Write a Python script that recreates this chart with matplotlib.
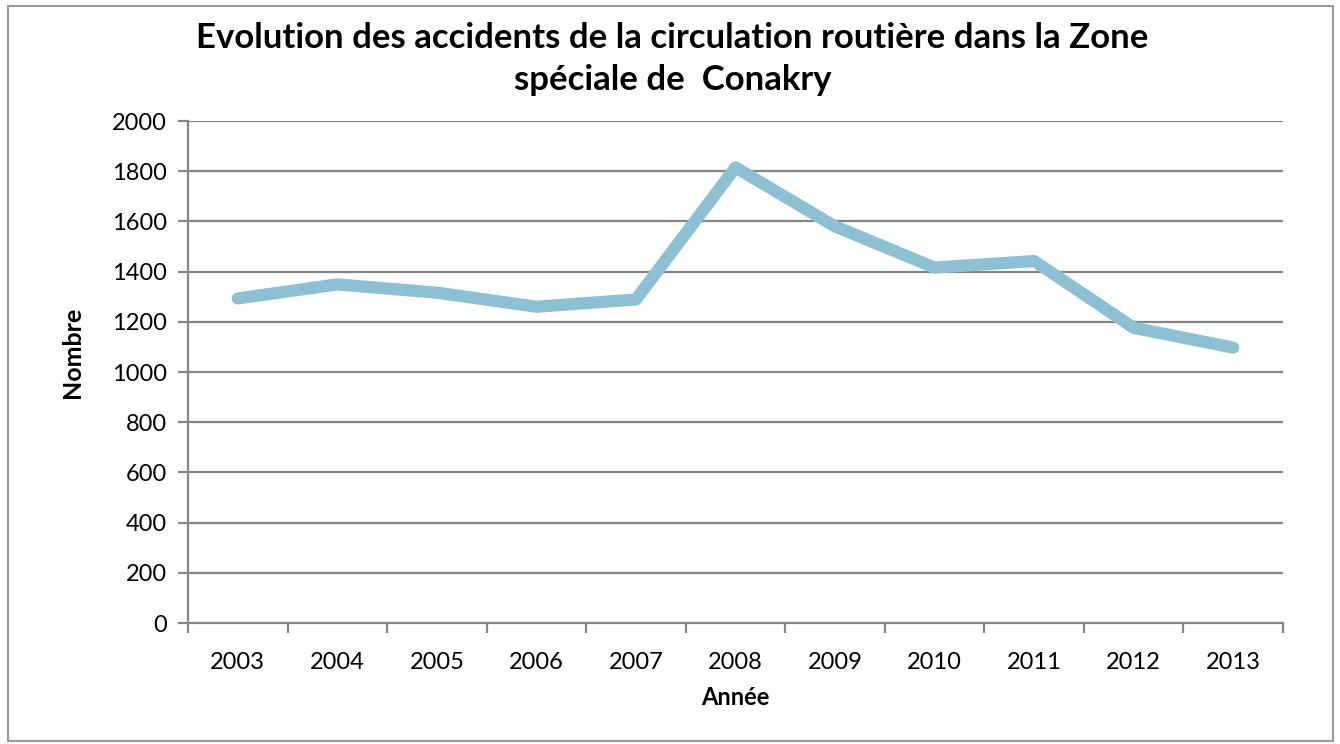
import matplotlib.pyplot as plt
from matplotlib.patches import Rectangle

annees = ['2003', '2004', '2005', '2006', '2007', '2008',
          '2009', '2010', '2011', '2012', '2013']
accidents = [1293, 1349, 1316, 1260, 1289, 1815, 1580, 1416, 1442, 1176, 1097]

plt.rcParams['font.family'] = ['Lato', 'DejaVu Sans']
gris = '#868686'

fig = plt.figure(figsize=(13.4, 7.44), dpi=100)
ax = fig.add_axes([188/1340, 1-623/744, (1283-188)/1340, (623-121)/744])

x = list(range(len(annees)))
ax.plot(x, accidents, color='#8DC0D3', lw=8.8,
        solid_capstyle='round', solid_joinstyle='round', zorder=3)

ax.set_xlim(-0.5, len(annees) - 0.5)
ax.set_ylim(0, 2000)
ax.set_yticks(range(0, 2001, 200))
ax.yaxis.grid(True, color=gris, lw=1.6)
ax.set_axisbelow(True)

# ticks between categories, labels centred
ax.set_xticks([i - 0.5 for i in range(len(annees) + 1)])
ax.set_xticklabels([])
ax.set_xticks(x, minor=True)
ax.set_xticklabels(annees, minor=True)
ax.tick_params(axis='x', which='major', length=7, width=1.6, color=gris)
ax.tick_params(axis='x', which='minor', length=0, pad=21, labelsize=17)
ax.tick_params(axis='y', length=7, width=1.6, color=gris, labelsize=17, pad=8)

for s in ['top', 'right']:
    ax.spines[s].set_visible(False)
for s in ['left', 'bottom']:
    ax.spines[s].set_color(gris)
    ax.spines[s].set_linewidth(1.6)

ax.set_ylabel('Nombre', fontsize=18, fontweight='bold', labelpad=20, y=0.54)
ax.set_xlabel('Année', fontsize=17, fontweight='bold', labelpad=9)

fig.text(0.502, 1-59/744, 'Evolution des accidents de la circulation routière dans la Zone\nspéciale de  Conakry',
         ha='center', va='center', fontsize=25, fontweight='bold', linespacing=1.42)

fig.patches.append(Rectangle((8/1340, 1-741/744), (1333-8)/1340, (741-6)/744,
                             transform=fig.transFigure, fill=False,
                             edgecolor='#9a9a9a', lw=1.5))

fig.savefig('out.png', dpi=100)
